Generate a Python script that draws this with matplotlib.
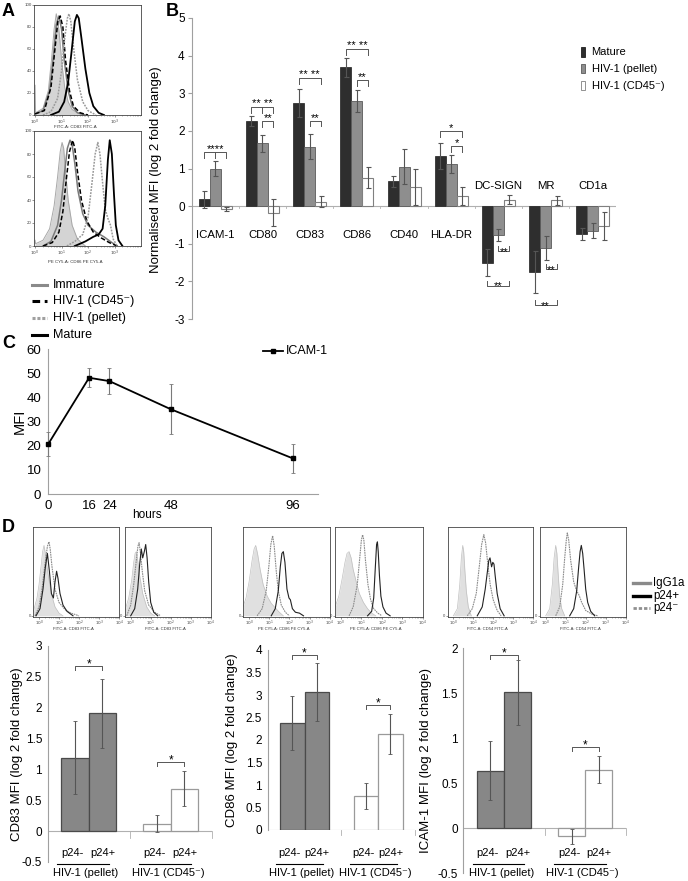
import matplotlib
matplotlib.use('Agg')
import matplotlib.pyplot as plt
from matplotlib.lines import Line2D
from matplotlib.patches import Rectangle
from matplotlib.transforms import blended_transform_factory
import numpy as np

plt.rcParams['font.family'] = ['Liberation Sans', 'DejaVu Sans']
plt.rcParams['axes.unicode_minus'] = False

# ---------------- DATA ----------------
# Panel A histograms (x = log10 fluorescence, y = % of max)
A1_iso_x = [0.00, 0.02, 0.3, 0.5, 0.62, 0.72, 0.8, 0.86, 0.93, 1.02, 1.12, 1.25, 1.4, 1.6, 1.9]
A1_iso_y = [27, 2, 6, 22, 50, 78, 92, 86, 70, 45, 25, 12, 5, 2, 0]
A1_imm_x = [0.0, 0.3, 0.55, 0.7, 0.8, 0.9, 1.0, 1.1, 1.25, 1.4, 1.6, 1.9]
A1_imm_y = [1, 4, 22, 55, 82, 90, 78, 50, 22, 8, 2, 0]
A1_cd45_x = [0.0, 0.35, 0.6, 0.75, 0.86, 0.95, 1.05, 1.15, 1.3, 1.45, 1.7, 2.0]
A1_cd45_y = [1, 4, 25, 60, 85, 90, 80, 50, 22, 8, 2, 0]
A1_pel_x = [0.3, 0.6, 0.85, 1.0, 1.12, 1.22, 1.28, 1.35, 1.45, 1.6, 1.8, 2.0, 2.3]
A1_pel_y = [0, 3, 15, 40, 70, 88, 92, 85, 62, 32, 12, 4, 0]
A1_mat_x = [0.6, 0.9, 1.1, 1.25, 1.38, 1.5, 1.58, 1.65, 1.75, 1.9, 2.05, 2.2, 2.4, 2.6]
A1_mat_y = [0, 3, 12, 30, 58, 85, 91, 88, 70, 42, 20, 8, 2, 0]

A2_iso_x = [0.0, 0.02, 0.3, 0.55, 0.72, 0.85, 0.95, 1.02, 1.08, 1.15, 1.25, 1.4, 1.6, 1.9]
A2_iso_y = [5, 2, 5, 15, 35, 60, 82, 90, 85, 65, 40, 18, 6, 0]
A2_imm_x = [0.3, 0.6, 0.85, 1.0, 1.12, 1.22, 1.32, 1.4, 1.5, 1.62, 1.8, 2.0, 2.3, 2.6, 2.9, 3.1]
A2_imm_y = [0, 4, 18, 40, 65, 85, 92, 88, 72, 48, 28, 18, 12, 8, 3, 0]
A2_cd45_x = [0.3, 0.65, 0.9, 1.05, 1.18, 1.3, 1.42, 1.5, 1.6, 1.75, 1.95, 2.2, 2.5, 2.8, 3.1]
A2_cd45_y = [0, 3, 12, 30, 58, 82, 92, 85, 65, 40, 22, 12, 7, 3, 0]
A2_pel_x = [1.2, 1.5, 1.8, 2.0, 2.15, 2.27, 2.37, 2.45, 2.55, 2.65, 2.75, 2.85, 2.95, 3.1]
A2_pel_y = [0, 4, 10, 25, 55, 80, 90, 80, 55, 32, 24, 18, 6, 0]
A2_mat_x = [1.5, 1.9, 2.2, 2.4, 2.55, 2.65, 2.75, 2.82, 2.9, 2.98, 3.05, 3.15, 3.3]
A2_mat_y = [0, 4, 8, 10, 15, 35, 75, 92, 80, 45, 18, 5, 0]

A_legend = ['Immature', 'HIV-1 (CD45⁻)', 'HIV-1 (pellet)', 'Mature']

# Panel B
B_markers = ['ICAM-1', 'CD80', 'CD83', 'CD86', 'CD40', 'HLA-DR', 'DC-SIGN', 'MR', 'CD1a']
B_mature = [0.18, 2.26, 2.75, 3.69, 0.66, 1.33, -1.50, -1.75, -0.73]
B_mature_err = [0.23, 0.13, 0.37, 0.26, 0.14, 0.34, 0.37, 0.56, 0.16]
B_pellet = [1.00, 1.67, 1.58, 2.79, 1.05, 1.12, -0.77, -1.12, -0.66]
B_pellet_err = [0.21, 0.22, 0.33, 0.29, 0.47, 0.24, 0.16, 0.32, 0.20]
B_cd45 = [-0.07, -0.17, 0.12, 0.75, 0.51, 0.27, 0.17, 0.15, -0.53]
B_cd45_err = [0.06, 0.37, 0.14, 0.28, 0.48, 0.23, 0.12, 0.12, 0.37]
B_series = ['Mature', 'HIV-1 (pellet)', 'HIV-1 (CD45⁻)']
# significance: (category, from bar, to bar, level, tick, text, middle tick)
B_sig = [(0, 0, 2, 1.44, 0.17, '****', True),
         (1, 0, 2, 2.64, 0.16, '** **', True),
         (1, 1, 2, 2.26, 0.15, '**', False),
         (2, 0, 2, 3.40, 0.16, '** **', False),
         (2, 1, 2, 2.27, 0.15, '**', False),
         (3, 0, 2, 4.18, 0.16, '** **', False),
         (3, 1, 2, 3.35, 0.15, '**', False),
         (5, 0, 2, 1.99, 0.15, '*', False),
         (5, 1, 2, 1.60, 0.15, '*', False),
         (6, 1, 2, -1.19, -0.13, '**', False),
         (6, 0, 2, -2.11, -0.13, '**', False),
         (7, 1, 2, -1.67, -0.13, '**', False),
         (7, 0, 2, -2.62, -0.13, '**', False)]

# Panel C
C_hours = [0, 16, 24, 48, 96]
C_mfi = [20.7, 48.1, 46.7, 35.1, 14.7]
C_err = [5.0, 4.0, 5.3, 10.3, 6.0]

# Panel D histograms: (fill IgG1a, p24-, p24+)
D_hists = [
    dict(iso=([-0.28, -0.1, 0.0, 0.1, 0.18, 0.25, 0.32, 0.4, 0.5, 0.65, 0.8, 1.0, 1.2],
              [5, 20, 35, 55, 72, 79, 70, 55, 40, 22, 10, 3, 0]),
         neg=([-0.2, 0.0, 0.15, 0.3, 0.42, 0.5, 0.56, 0.65, 0.8, 1.0, 1.3, 1.6, 2.0],
              [0, 10, 30, 58, 78, 83, 75, 55, 30, 15, 7, 3, 0]),
         pos=([-0.15, 0.05, 0.2, 0.32, 0.42, 0.52, 0.62, 0.72, 0.8, 0.88, 0.95, 1.05, 1.2, 1.4, 1.7],
              [0, 8, 30, 55, 70, 50, 25, 20, 38, 50, 42, 25, 12, 5, 0]),
         label='FITC-A: CD83 FITC-A'),
    dict(iso=([-0.3, -0.1, 0.05, 0.15, 0.22, 0.28, 0.35, 0.45, 0.6, 0.8, 1.0, 1.2],
              [5, 20, 40, 60, 70, 72, 62, 45, 25, 10, 3, 0]),
         neg=([-0.2, 0.0, 0.15, 0.28, 0.36, 0.42, 0.48, 0.58, 0.7, 0.9, 1.2, 1.5],
              [0, 12, 35, 62, 78, 82, 72, 50, 28, 12, 4, 0]),
         pos=([0.0, 0.2, 0.35, 0.45, 0.53, 0.6, 0.68, 0.75, 0.82, 0.9, 1.0, 1.15, 1.35],
              [0, 8, 30, 58, 75, 65, 72, 80, 65, 38, 15, 4, 0]),
         label='FITC-A: CD83 FITC-A'),
    dict(iso=([-0.3, -0.15, 0.0, 0.15, 0.25, 0.33, 0.42, 0.55, 0.7, 0.9, 1.1, 1.3, 1.5, 1.7],
              [10, 20, 38, 62, 75, 79, 70, 52, 35, 22, 14, 9, 4, 0]),
         neg=([0.4, 0.65, 0.85, 0.98, 1.08, 1.17, 1.25, 1.35, 1.45, 1.6, 1.8, 2.0],
              [0, 8, 28, 55, 80, 90, 78, 50, 28, 12, 4, 0]),
         pos=([1.1, 1.3, 1.45, 1.55, 1.63, 1.7, 1.78, 1.88, 1.98, 2.05, 2.15, 2.3, 2.5, 2.7],
              [0, 8, 28, 55, 70, 72, 60, 30, 20, 18, 8, 4, 3, 0]),
         label='PE CY5-A: CD86 PE CY5-A'),
    dict(iso=([-0.28, -0.1, 0.05, 0.2, 0.3, 0.4, 0.5, 0.6, 0.75, 0.9, 1.1, 1.3, 1.5, 1.7],
              [10, 22, 40, 60, 70, 72, 65, 52, 38, 25, 15, 8, 3, 0]),
         neg=([0.4, 0.6, 0.8, 0.92, 1.0, 1.06, 1.12, 1.2, 1.32, 1.45, 1.6, 1.8, 2.0],
              [0, 10, 35, 65, 85, 91, 85, 62, 35, 18, 8, 3, 0]),
         pos=([1.3, 1.5, 1.6, 1.68, 1.74, 1.78, 1.82, 1.88, 1.95, 2.05, 2.2, 2.4],
              [0, 5, 20, 55, 80, 83, 72, 45, 22, 10, 3, 0]),
         label='PE CY5-A: CD86 PE CY5-A'),
    dict(iso=([0.0, 0.2, 0.32, 0.4, 0.47, 0.52, 0.58, 0.65, 0.75, 0.9],
              [0, 8, 35, 65, 79, 72, 50, 28, 10, 0]),
         neg=([0.7, 0.95, 1.15, 1.3, 1.42, 1.53, 1.62, 1.72, 1.85, 2.0, 2.2, 2.4],
              [0, 8, 25, 55, 80, 91, 82, 60, 35, 18, 6, 0]),
         pos=([1.2, 1.45, 1.6, 1.7, 1.78, 1.84, 1.92, 1.98, 2.04, 2.1, 2.2, 2.35, 2.55],
              [0, 10, 30, 48, 62, 65, 55, 60, 58, 45, 25, 8, 0]),
         label='FITC-A: CD54 FITC-A'),
    dict(iso=([0.0, 0.2, 0.33, 0.42, 0.5, 0.56, 0.62, 0.7, 0.8, 0.95],
              [0, 8, 35, 65, 79, 70, 48, 22, 8, 0]),
         neg=([0.5, 0.7, 0.85, 0.95, 1.03, 1.08, 1.15, 1.25, 1.4, 1.55, 1.67, 1.8, 2.0, 2.3, 2.6],
              [0, 10, 35, 65, 85, 93, 85, 62, 38, 28, 23, 15, 6, 2, 0]),
         pos=([1.2, 1.4, 1.55, 1.65, 1.72, 1.78, 1.85, 1.92, 2.0, 2.1, 2.25, 2.45],
              [0, 8, 28, 55, 72, 79, 70, 52, 30, 15, 5, 0]),
         label='FITC-A: CD54 FITC-A'),
]
D_legend = ['IgG1a', 'p24+', 'p24⁻']

# Panel D bar charts (p24- pellet, p24+ pellet, p24- CD45-, p24+ CD45-)
D_groups = ['HIV-1 (pellet)', 'HIV-1 (CD45⁻)']
D_sub = ['p24-', 'p24+']
D_cd83 = [1.19, 1.91, 0.12, 0.69]
D_cd83_err = [0.59, 0.56, 0.14, 0.28]
D_cd86 = [2.38, 3.07, 0.76, 2.13]
D_cd86_err = [0.60, 0.64, 0.29, 0.44]
D_icam = [0.64, 1.51, -0.09, 0.65]
D_icam_err = [0.33, 0.36, 0.08, 0.15]

# ---------------- HELPERS ----------------
W, H = 688, 881
fig = plt.figure(figsize=(W / 100, H / 100), dpi=100)


def add_ax(x0, y0, x1, y1):
    return fig.add_axes([x0 / W, 1 - y1 / H, (x1 - x0) / W, (y1 - y0) / H])


def ftext(x, y, s, **kw):
    fig.text(x / W, 1 - y / H, s, **kw)


def fline(xs, ys, **kw):
    fig.add_artist(Line2D([v / W for v in xs], [1 - v / H for v in ys], transform=fig.transFigure, **kw))


def frect(x, y, w, h, **kw):
    fig.add_artist(Rectangle((x / W, 1 - (y + h) / H), w / W, h / H, transform=fig.transFigure, **kw))


minor_pos = [k + np.log10(m) for k in range(0, 4) for m in range(2, 10)]


def style_hist(ax, xlim, ylim, yticks, xt_labels, fs=3.2):
    ax.set_xlim(*xlim)
    ax.set_ylim(*ylim)
    for s in ax.spines.values():
        s.set_linewidth(0.6)
        s.set_color('#444444')
    ax.set_xticks(range(len(xt_labels)))
    ax.set_xticklabels(xt_labels, fontsize=fs)
    ax.set_xticks(minor_pos, minor=True)
    ax.set_yticks(yticks)
    ax.set_yticklabels([str(v) for v in yticks], fontsize=fs)
    ax.tick_params(which='major', length=1.2, width=0.4, pad=0.6, colors='#444444')
    ax.tick_params(which='minor', length=0.7, width=0.3, colors='#444444')


# ---------------- PANEL A ----------------
ftext(8, 12, 'A', fontsize=13, fontweight='bold', ha='center', va='center')
A_sets = [
    ((34, 5, 141, 115), A1_iso_x, A1_iso_y, A1_imm_x, A1_imm_y, A1_cd45_x, A1_cd45_y,
     A1_pel_x, A1_pel_y, A1_mat_x, A1_mat_y, 'FITC-A: CD83 FITC-A', 127.2),
    ((34, 131, 141, 246), A2_iso_x, A2_iso_y, A2_imm_x, A2_imm_y, A2_cd45_x, A2_cd45_y,
     A2_pel_x, A2_pel_y, A2_mat_x, A2_mat_y, 'PE CY5-A: CD86 PE CY5-A', 262.0),
]
for (box, ix, iy, mx, my, cx, cy, px_, py_, tx, ty, lab, ly) in A_sets:
    ax = add_ax(*box)
    ax.fill_between(ix, iy, color='#d4d4d4', lw=0)
    ax.plot(ix, iy, color='#a8a8a8', lw=0.7)
    ax.plot(mx, my, color='#7a7a7a', lw=1.1)
    ax.plot(cx, cy, color='black', lw=1.1, dashes=(3, 1.5))
    ax.plot(px_, py_, color='#9a9a9a', lw=1.1, dashes=(1.2, 0.8))
    ax.plot(tx, ty, color='black', lw=1.3)
    style_hist(ax, (-0.04, 4.0), (0, 100), [0, 20, 40, 60, 80, 100],
               ['$10^0$', '$10^1$', '$10^2$', '$10^3$'], fs=3.2)
    ftext(75, ly, lab, fontsize=3.2, ha='center', va='center', color='#333333')

A_leg_styles = [dict(color='#8a8a8a', lw=2.2), dict(color='black', lw=2.2, dashes=(2.5, 1.5)),
                dict(color='#a0a0a0', lw=2.2, dashes=(1.0, 0.6)), dict(color='black', lw=2.2)]
for i, (lab, st) in enumerate(zip(A_legend, A_leg_styles)):
    yy = 285 + i * 16.5
    fline([31.5, 46.5], [yy, yy], **st)
    ftext(53, yy, lab, fontsize=9, ha='left', va='center')

# ---------------- PANEL B ----------------
ftext(172.5, 12, 'B', fontsize=13, fontweight='bold', ha='center', va='center')
axB = add_ax(191.7, 18, 616.4, 319)
xB = np.arange(len(B_markers))
bw = 0.233
ekw = dict(ecolor='#555555', elinewidth=0.8, capsize=1.8, capthick=0.8)
axB.bar(xB - bw, B_mature, bw, color='#2e2e2e', edgecolor='#1e1e1e', lw=0.5, yerr=B_mature_err, error_kw=ekw, zorder=2)
axB.bar(xB, B_pellet, bw, color='#8e8e8e', edgecolor='#5a5a5a', lw=0.6, yerr=B_pellet_err, error_kw=ekw, zorder=2)
axB.bar(xB + bw, B_cd45, bw, color='white', edgecolor='#808080', lw=0.8, yerr=B_cd45_err, error_kw=ekw, zorder=2)
axB.set_xlim(-0.5, 8.5)
axB.set_ylim(-3, 5)
axB.axhline(0, color='#b0b0b0', lw=0.8, zorder=1)
for xb in np.arange(0.5, 8.5, 1.0):
    axB.plot([xb, xb], [0, -0.06], color='#b0b0b0', lw=0.6)
for s in ['top', 'right', 'bottom']:
    axB.spines[s].set_visible(False)
axB.spines['left'].set_color('#a0a0a0')
axB.spines['left'].set_linewidth(0.8)
axB.set_xticks([])
axB.set_yticks(range(-3, 6))
axB.tick_params(axis='y', labelsize=8.5, length=3, color='#a0a0a0', pad=2)
for i, name in enumerate(B_markers):
    axB.text(i, -0.78 if i < 6 else 0.53, name, ha='center', va='center', fontsize=8.2)
for (ci, a, b, lv, tk, txt, mid) in B_sig:
    x0 = ci + (a - 1) * bw
    x1 = ci + (b - 1) * bw
    axB.plot([x0, x0, x1, x1], [lv - tk, lv, lv, lv - tk], color='#555555', lw=0.7)
    if mid:
        axB.plot([ci, ci], [lv, lv - tk], color='#555555', lw=0.7)
    dy = 0.0 if tk > 0 else -2.9
    axB.annotate(txt, xy=((x0 + x1) / 2, lv), xytext=(0, dy), textcoords='offset points',
                 ha='center', va='baseline', fontsize=8)
ftext(156.5, 170, 'Normalised MFI (log 2 fold change)', fontsize=9.5, rotation=90, ha='center', va='center')

B_colors = [('#2e2e2e', '#1e1e1e'), ('#8e8e8e', '#5a5a5a'), ('white', '#808080')]
for i, (lab, (fc, ec)) in enumerate(zip(B_series, B_colors)):
    yy = 52 + i * 16.8
    frect(581, yy - 4.5, 4, 9, facecolor=fc, edgecolor=ec, lw=0.6)
    ftext(591.5, yy, lab, fontsize=8, ha='left', va='center')

# ---------------- PANEL C ----------------
ftext(9, 343, 'C', fontsize=13, fontweight='bold', ha='center', va='center')
axC = add_ax(48.3, 349, 318, 494)
axC.errorbar(C_hours, C_mfi, yerr=C_err, color='black', lw=1.3, marker='s', ms=3.5,
             ecolor='#7a7a7a', elinewidth=0.8, capsize=1.5, capthick=0.6, clip_on=False, zorder=3)
axC.set_xlim(0, 105.8)
axC.set_ylim(0, 60)
for s in ['top', 'right']:
    axC.spines[s].set_visible(False)
for s in ['left', 'bottom']:
    axC.spines[s].set_color('#a0a0a0')
    axC.spines[s].set_linewidth(0.8)
axC.set_xticks(C_hours)
axC.set_yticks(range(0, 70, 10))
axC.tick_params(axis='both', labelsize=9.5, length=0, pad=4)
axC.tick_params(axis='y', pad=5)
ftext(147, 515.5, 'hours', fontsize=8.5, ha='center', va='center')
ftext(20, 421, 'MFI', fontsize=10.5, rotation=90, ha='center', va='center')
fline([263, 283], [350.5, 350.5], color='black', lw=1.3)
fig.add_artist(Line2D([273 / W], [1 - 350.5 / H], marker='s', ms=3.5, color='black', transform=fig.transFigure))
ftext(285.5, 350.5, 'ICAM-1', fontsize=9, ha='left', va='center')

# ---------------- PANEL D ----------------
ftext(8, 527, 'D', fontsize=13, fontweight='bold', ha='center', va='center')
D_boxes = [(33.3, 119.3), (125, 211), (243.3, 330), (335, 423.3), (447.7, 533.3), (540, 626)]
for (x0, x1), hd in zip(D_boxes, D_hists):
    ax = add_ax(x0, 526.7, x1, 616.7)
    ax.fill_between(hd['iso'][0], hd['iso'][1], color='#e0e0e0', lw=0)
    ax.plot(hd['iso'][0], hd['iso'][1], color='#c0c0c0', lw=0.5)
    ax.plot(hd['neg'][0], hd['neg'][1], color='#8a8a8a', lw=0.8, dashes=(1.5, 0.7))
    ax.plot(hd['pos'][0], hd['pos'][1], color='#222222', lw=0.8)
    style_hist(ax, (-0.285, 4.015), (-1, 100), [0],
               ['$10^0$', '$10^1$', '$10^2$', '$10^3$', '$10^4$'], fs=3.0)
    ftext((x0 + x1) / 2 - 3, 628.8, hd['label'], fontsize=3.0, ha='center', va='center', color='#333333')

D_leg_styles = [dict(color='#8a8a8a', lw=2.4), dict(color='black', lw=2.4),
                dict(color='#909090', lw=2.0, dashes=(1.2, 0.7))]
for i, (lab, st) in enumerate(zip(D_legend, D_leg_styles)):
    yy = 582.7 + i * 12.8
    fline([632.7, 650], [yy, yy], **st)
    ftext(653.3, yy, lab, fontsize=8.3, ha='left', va='center')

D_pos = [1, 2, 4, 5]
D_fc = ['#878787', '#878787', 'white', 'white']
D_ec = ['#4a4a4a', '#4a4a4a', '#9a9a9a', '#9a9a9a']
D_charts = [
    ((47.7, 646, 211.7, 862), D_cd83, D_cd83_err, (-0.5, 3), 'CD83 MFI (log 2 fold change)', 17.5,
     [(1, 2, 2.68, 0.07), (4, 5, 1.125, 0.07)]),
    ((267.7, 650, 415, 830), D_cd86, D_cd86_err, (0, 4), 'CD86 MFI (log 2 fold change)', 232,
     [(1, 2, 3.89, 0.08), (4, 5, 2.78, 0.08)]),
    ((463.3, 648.3, 626, 873.3), D_icam, D_icam_err, (-0.5, 2), 'ICAM-1 MFI (log 2 fold change)', 426,
     [(1, 2, 1.93, 0.05), (4, 5, 0.905, 0.05)]),
]
for (box, vals, errs, yl, ylab, ylx, sigs) in D_charts:
    ax = add_ax(*box)
    ax.bar(D_pos, vals, 1.0, color=D_fc, edgecolor=D_ec, lw=0.9, zorder=2,
           yerr=errs, error_kw=dict(ecolor='#555555', elinewidth=0.8, capsize=1.5, capthick=0.6))
    ax.set_xlim(0, 6)
    ax.set_ylim(*yl)
    ax.axhline(0, color='#b0b0b0', lw=0.8, zorder=1)
    for xb in [3, 6]:
        ax.plot([xb, xb], [0, -0.03 * (yl[1] - yl[0])], color='#b0b0b0', lw=0.6, clip_on=False)
    for s in ['top', 'right', 'bottom']:
        ax.spines[s].set_visible(False)
    ax.spines['left'].set_color('#a0a0a0')
    ax.spines['left'].set_linewidth(0.8)
    ax.set_xticks([])
    yt = np.arange(yl[0], yl[1] + 0.01, 0.5)
    ax.set_yticks(yt)
    ax.set_yticklabels([f'{v:g}' for v in yt])
    ax.tick_params(axis='y', labelsize=8.5, length=0, pad=4)
    for (a, b, lv, tk) in sigs:
        ax.plot([a, a, b, b], [lv - tk, lv, lv, lv - tk], color='#555555', lw=0.7)
        ax.annotate('*', xy=((a + b) / 2, lv), xytext=(0, -1.0), textcoords='offset points',
                    ha='center', va='baseline', fontsize=8.5)
    tr = blended_transform_factory(ax.transData, fig.transFigure)
    for g, gc in enumerate([1.5, 4.5]):
        ax.text(gc - 0.6, 1 - 853.5 / H, D_sub[0], transform=tr, ha='center', va='center', fontsize=8)
        ax.text(gc + 0.5, 1 - 853.5 / H, D_sub[1], transform=tr, ha='center', va='center', fontsize=8)
        ax.plot([gc - 1.15, gc + 0.75], [1 - 863.5 / H] * 2, transform=tr, color='black', lw=0.8, clip_on=False)
        ax.text(gc - 0.1, 1 - 872.5 / H, D_groups[g], transform=tr, ha='center', va='center', fontsize=8)
    ftext(ylx, (box[1] + box[3]) / 2, ylab, fontsize=9.5, rotation=90, ha='center', va='center')

fig.savefig('out.png', dpi=100)
